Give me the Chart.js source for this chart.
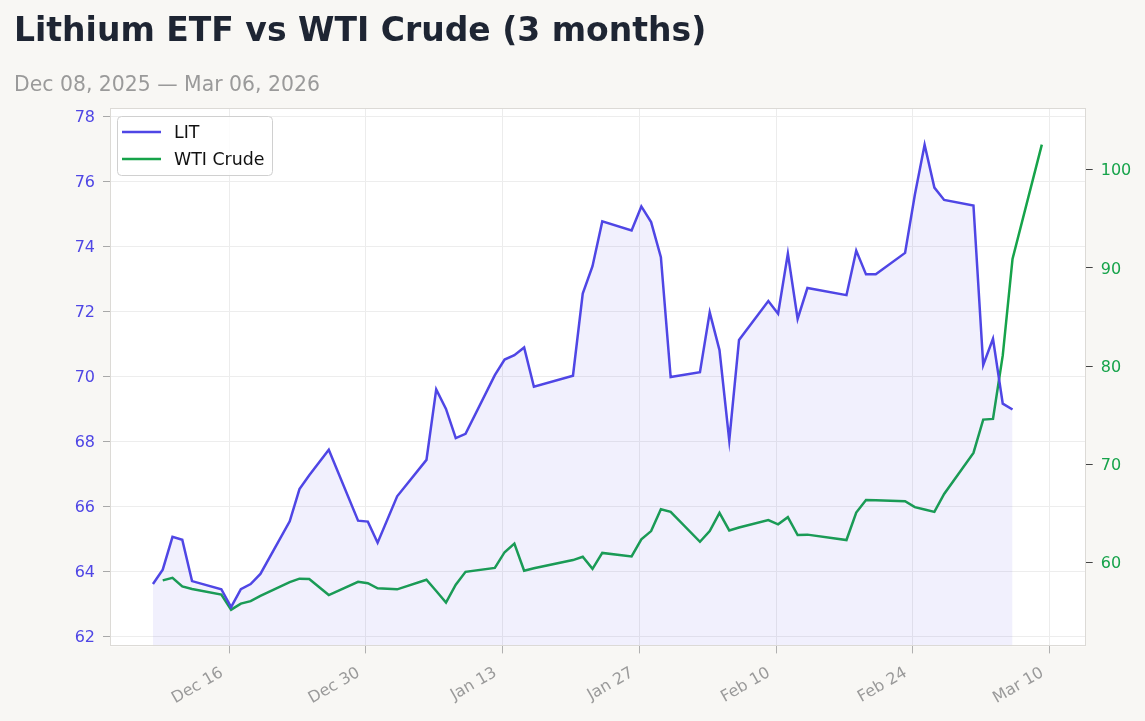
<!DOCTYPE html>
<html>
<head>
<meta charset="utf-8">
<script src="https://cdn.jsdelivr.net/npm/chart.js@4.4.1/dist/chart.umd.min.js"></script>
<style>
  html, body { margin: 0; padding: 0; background: #f8f7f4; }
  #wrap { position: relative; width: 1145px; height: 721px; overflow: hidden; }
  #c { position: absolute; left: 0; top: 0; }
  .title { position: absolute; left: 14px; top: 11px; font-family: "DejaVu Sans", sans-serif; font-weight: bold; font-size: 33px; line-height: 38px; color: #1e2533; white-space: nowrap; z-index: 2; }
  .sub { position: absolute; left: 14px; top: 72px; font-family: "DejaVu Sans", sans-serif; font-size: 20.4px; line-height: 24px; color: #9a9a9a; white-space: nowrap; z-index: 2; }
</style>
</head>
<body>
<div id="wrap">
  <div class="title">Lithium ETF vs WTI Crude (3 months)</div>
  <div class="sub">Dec 08, 2025 — Mar 06, 2026</div>
  <canvas id="c" width="1145" height="721"></canvas>
</div>
<script>
// ---- data ----
const litDates = ['2025-12-08','2025-12-09','2025-12-10','2025-12-11','2025-12-12','2025-12-15','2025-12-16','2025-12-17','2025-12-18','2025-12-19','2025-12-22','2025-12-23','2025-12-24','2025-12-26','2025-12-29','2025-12-30','2025-12-31','2026-01-02','2026-01-05','2026-01-06','2026-01-07','2026-01-08','2026-01-09','2026-01-12','2026-01-13','2026-01-14','2026-01-15','2026-01-16','2026-01-20','2026-01-21','2026-01-22','2026-01-23','2026-01-26','2026-01-27','2026-01-28','2026-01-29','2026-01-30','2026-02-02','2026-02-03','2026-02-04','2026-02-05','2026-02-06','2026-02-09','2026-02-10','2026-02-11','2026-02-12','2026-02-13','2026-02-17','2026-02-18','2026-02-19','2026-02-20','2026-02-23','2026-02-24','2026-02-25','2026-02-26','2026-02-27','2026-03-02','2026-03-03','2026-03-04','2026-03-05','2026-03-06'];
const litClose = [63.60,64.04,65.05,64.96,63.69,63.44,62.89,63.44,63.60,63.91,65.53,66.52,66.95,67.73,65.55,65.52,64.87,66.30,67.42,69.59,68.99,68.09,68.22,70.03,70.51,70.64,70.88,69.67,70.01,72.54,73.38,74.76,74.48,75.22,74.74,73.66,69.97,70.12,71.96,70.80,68.02,71.11,72.31,71.92,73.77,71.76,72.71,72.49,73.86,73.13,73.13,73.79,75.58,77.12,75.80,75.42,75.25,70.34,71.15,69.15,68.97];

const wtiDates = ['2025-12-09','2025-12-10','2025-12-11','2025-12-12','2025-12-15','2025-12-16','2025-12-17','2025-12-18','2025-12-19','2025-12-22','2025-12-23','2025-12-24','2025-12-26','2025-12-29','2025-12-30','2025-12-31','2026-01-02','2026-01-05','2026-01-06','2026-01-07','2026-01-08','2026-01-09','2026-01-12','2026-01-13','2026-01-14','2026-01-15','2026-01-16','2026-01-20','2026-01-21','2026-01-22','2026-01-23','2026-01-26','2026-01-27','2026-01-28','2026-01-29','2026-01-30','2026-02-02','2026-02-03','2026-02-04','2026-02-05','2026-02-06','2026-02-09','2026-02-10','2026-02-11','2026-02-12','2026-02-13','2026-02-17','2026-02-18','2026-02-19','2026-02-20','2026-02-23','2026-02-24','2026-02-25','2026-02-26','2026-02-27','2026-03-02','2026-03-03','2026-03-04','2026-03-05','2026-03-06','2026-03-09'];
const wtiClose = [58.18,58.44,57.56,57.30,56.73,55.20,55.82,56.07,56.60,58.00,58.36,58.33,56.69,58.04,57.89,57.38,57.27,58.25,57.10,55.93,57.75,59.05,59.45,61.05,61.93,59.16,59.42,60.25,60.58,59.35,60.98,60.62,62.36,63.20,65.42,65.16,62.11,63.20,65.05,63.27,63.56,64.33,63.89,64.62,62.80,62.84,62.29,65.09,66.36,66.33,66.25,65.64,65.40,65.16,66.98,71.16,74.55,74.62,81.09,90.91,102.55];

const xTickDates = ['2025-12-16','2025-12-30','2026-01-13','2026-01-27','2026-02-10','2026-02-24','2026-03-10'];
const xTickLabels = ['Dec 16','Dec 30','Jan 13','Jan 27','Feb 10','Feb 24','Mar 10'];
const litTicks = [62,64,66,68,70,72,74,76,78];
const wtiTicks = [60,70,80,90,100];

// ---- helpers ----
const EPOCH = Date.parse('2025-12-16T00:00:00Z');
const DAY = 86400000;
const stamp = (s) => (Date.parse(s + 'T05:00:00Z') - EPOCH) / DAY; // session timestamps
const tickDay = (s) => (Date.parse(s + 'T00:00:00Z') - EPOCH) / DAY;
const xTickVals = xTickDates.map(tickDay);

const LIT_COLOR = '#4f46e5';
const WTI_COLOR = '#16a34a';
const FONT = '"DejaVu Sans", sans-serif';

const bgPlugin = {
  id: 'bg',
  beforeDraw(chart) {
    const a = chart.chartArea, ctx = chart.ctx;
    ctx.save();
    ctx.fillStyle = '#ffffff';
    ctx.fillRect(a.left, a.top, a.right - a.left, a.bottom - a.top);
    ctx.restore();
  },
  afterDatasetsDraw(chart) {
    const a = chart.chartArea, ctx = chart.ctx;
    ctx.save();
    ctx.strokeStyle = '#dcdad6';
    ctx.lineWidth = 1;
    ctx.strokeRect(Math.round(a.left) + 0.5, Math.round(a.top) + 0.5, Math.round(a.right - a.left) - 1, Math.round(a.bottom - a.top) - 1);
    // legend (inside, upper left)
    const lx = a.left + 7, ly = a.top + 8, lw = 155, lh = 59;
    ctx.beginPath();
    ctx.roundRect(lx + 0.5, ly + 0.5, lw, lh, 4);
    ctx.fillStyle = 'rgba(255,255,255,0.85)';
    ctx.fill();
    ctx.strokeStyle = '#d0d0d0';
    ctx.stroke();
    ctx.font = '17.4px ' + FONT;
    ctx.textBaseline = 'middle';
    ctx.textAlign = 'left';
    chart.data.datasets.forEach((ds, i) => {
      const yy = ly + 16 + i * 27;
      ctx.beginPath();
      ctx.moveTo(lx + 5, yy);
      ctx.lineTo(lx + 44, yy);
      ctx.strokeStyle = ds.borderColor;
      ctx.lineWidth = 2.5;
      ctx.stroke();
      ctx.fillStyle = '#111111';
      ctx.fillText(ds.label, lx + 57, yy + 1);
    });
    ctx.restore();
  }
};

new Chart(document.getElementById('c'), {
  type: 'line',
  data: {
    datasets: [
      {
        label: 'LIT',
        data: litDates.map((d, i) => ({ x: stamp(d), y: litClose[i] })),
        borderColor: LIT_COLOR,
        backgroundColor: 'rgba(79,70,229,0.08)',
        borderWidth: 2.5,
        fill: 'start',
        pointRadius: 0,
        tension: 0,
        yAxisID: 'yL'
      },
      {
        label: 'WTI Crude',
        data: wtiDates.map((d, i) => ({ x: stamp(d), y: wtiClose[i] })),
        borderColor: WTI_COLOR,
        backgroundColor: WTI_COLOR,
        borderWidth: 2.5,
        fill: false,
        pointRadius: 0,
        tension: 0,
        yAxisID: 'yR'
      }
    ]
  },
  options: {
    responsive: false,
    animation: false,
    devicePixelRatio: 1,
    layout: { padding: { top: 108, left: 0, right: 0, bottom: 0 } },
    plugins: { legend: { display: false }, title: { display: false }, tooltip: { enabled: false } },
    scales: {
      x: {
        type: 'linear',
        min: -12.19,
        max: 87.7,
        afterBuildTicks: (s) => { s.ticks = xTickVals.map(v => ({ value: v })); },
        afterFit: (s) => { s.height = 74.6; },
        grid: { color: '#ececec', tickColor: '#b0b0b0', tickLength: 7, drawTicks: true },
        border: { display: false },
        ticks: {
          autoSkip: false,
          minRotation: 30,
          maxRotation: 30,
          padding: 10,
          labelOffset: -7,
          color: '#9a9a9a',
          font: { family: FONT, size: 16 },
          callback: (v) => { const k = xTickVals.indexOf(v); return k >= 0 ? xTickLabels[k] : ''; }
        }
      },
      yL: {
        position: 'left',
        min: 61.68,
        max: 78.25,
        afterBuildTicks: (s) => { s.ticks = litTicks.map(v => ({ value: v })); },
        afterFit: (s) => { s.width = 110; },
        grid: { color: '#ededed', tickColor: '#a8a8a8', tickLength: 7 },
        border: { display: false },
        ticks: { color: LIT_COLOR, padding: 8, labelOffset: 1.5, font: { family: FONT, size: 16 } }
      },
      yR: {
        position: 'right',
        min: 51.46,
        max: 106.28,
        afterBuildTicks: (s) => { s.ticks = wtiTicks.map(v => ({ value: v })); },
        afterFit: (s) => { s.width = 59.3; },
        grid: { drawOnChartArea: false, tickColor: '#444444', tickLength: 7 },
        border: { display: false },
        ticks: { color: WTI_COLOR, padding: 8, labelOffset: 1.5, font: { family: FONT, size: 16 } }
      }
    }
  },
  plugins: [bgPlugin]
});
</script>
</body>
</html>
